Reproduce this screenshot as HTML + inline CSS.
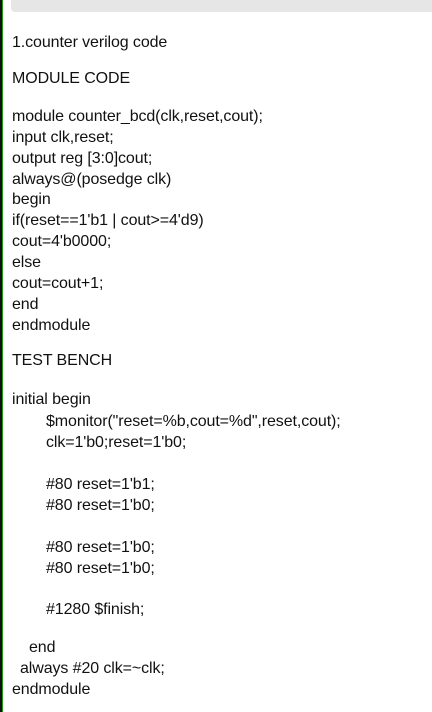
<!DOCTYPE html>
<html><head><meta charset="utf-8"><style>
html,body{margin:0;padding:0;width:432px;height:712px;overflow:hidden;background:#fff;}
body{position:relative;font-family:"Segoe UI","Liberation Sans",sans-serif;font-size:16px;color:#111;}
.lb{position:absolute;left:0;top:0;width:2px;height:712px;background:#111;}
.lg{position:absolute;left:2px;top:0;width:1px;height:712px;background:#1c9a1c;}
.bar{position:absolute;left:11px;top:0;width:421px;height:12px;background:#e6e6e6;border-bottom-left-radius:4px;}
.l{position:absolute;left:12px;height:20px;line-height:20px;white-space:pre;letter-spacing:-0.1px;}
</style></head><body>
<div class="lb"></div><div class="lg"></div><div class="bar"></div>
<div class="l" style="top:33px">1.counter verilog code</div>
<div class="l" style="top:69px">MODULE CODE</div>
<div class="l" style="top:107px">module counter_bcd(clk,reset,cout);</div>
<div class="l" style="top:128px">input clk,reset;</div>
<div class="l" style="top:149px">output reg [3:0]cout;</div>
<div class="l" style="top:170px">always@(posedge clk)</div>
<div class="l" style="top:190px">begin</div>
<div class="l" style="top:211px">if(reset==1'b1 | cout&gt;=4'd9)</div>
<div class="l" style="top:232px">cout=4'b0000;</div>
<div class="l" style="top:253px">else</div>
<div class="l" style="top:274px">cout=cout+1;</div>
<div class="l" style="top:295px">end</div>
<div class="l" style="top:316px">endmodule</div>
<div class="l" style="top:351px">TEST BENCH</div>
<div class="l" style="top:390px">initial begin</div>
<div class="l" style="top:412px;left:46px">$monitor("reset=%b,cout=%d",reset,cout);</div>
<div class="l" style="top:433px;left:46px">clk=1'b0;reset=1'b0;</div>
<div class="l" style="top:475px;left:46px">#80 reset=1'b1;</div>
<div class="l" style="top:496px;left:46px">#80 reset=1'b0;</div>
<div class="l" style="top:538px;left:46px">#80 reset=1'b0;</div>
<div class="l" style="top:559px;left:46px">#80 reset=1'b0;</div>
<div class="l" style="top:600px;left:46px">#1280 $finish;</div>
<div class="l" style="top:638px;left:29px">end</div>
<div class="l" style="top:659px;left:20px">always #20 clk=~clk;</div>
<div class="l" style="top:680px">endmodule</div>
</body></html>
